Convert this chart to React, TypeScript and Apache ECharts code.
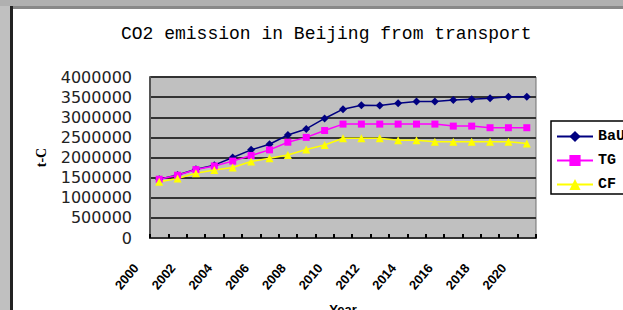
import React, { useEffect, useRef } from "react";
import * as echarts from "echarts";

const years: string[] = [
  "2000", "2001", "2002", "2003", "2004", "2005", "2006", "2007", "2008", "2009", "2010",
  "2011", "2012", "2013", "2014", "2015", "2016", "2017", "2018", "2019", "2020",
];

const bauValues: number[] = [
  1460000, 1565000, 1710000, 1810000, 2000000, 2190000, 2330000, 2560000, 2710000, 2970000, 3200000,
  3300000, 3290000, 3350000, 3390000, 3390000, 3430000, 3450000, 3470000, 3510000, 3510000,
];

const tgValues: number[] = [
  1460000, 1560000, 1700000, 1790000, 1910000, 2050000, 2190000, 2380000, 2500000, 2670000, 2830000,
  2830000, 2830000, 2830000, 2830000, 2830000, 2780000, 2780000, 2740000, 2740000, 2740000,
];

const cfValues: number[] = [
  1400000, 1480000, 1610000, 1690000, 1750000, 1900000, 1980000, 2060000, 2200000, 2310000, 2480000,
  2480000, 2480000, 2430000, 2430000, 2390000, 2390000, 2390000, 2390000, 2390000, 2350000,
];

const yTicks: number[] = [0, 500000, 1000000, 1500000, 2000000, 2500000, 3000000, 3500000, 4000000];

export default function App() {
  const ref = useRef<HTMLDivElement>(null);

  useEffect(() => {
    if (!ref.current) return;
    const chart = echarts.init(ref.current, null, { renderer: "svg" });
    const yMax = yTicks[yTicks.length - 1];
    const yInterval = yTicks[1] - yTicks[0];
    chart.setOption({
      animation: false,
      backgroundColor: "#ffffff",
      title: {
        text: "CO2 emission in Beijing from transport",
        left: 121,
        top: 25,
        padding: 0,
        textStyle: {
          fontFamily: "Liberation Mono",
          fontSize: 18,
          fontWeight: "normal",
          color: "#000",
        },
      },
      graphic: [
        { type: "rect", shape: { x: 0, y: 0, width: 10, height: 310 }, style: { fill: "#c0c0c0" }, z: 100 },
        { type: "rect", shape: { x: 0, y: 0, width: 623, height: 6 }, style: { fill: "#b0b0b0" }, z: 100 },
        { type: "rect", shape: { x: 10, y: 6, width: 613, height: 3 }, style: { fill: "#888888" }, z: 100 },
        { type: "rect", shape: { x: 10, y: 6, width: 3, height: 304 }, style: { fill: "#222222" }, z: 100 },
      ],
      legend: {
        orient: "vertical",
        left: 551,
        top: 121,
        padding: [8, 5, 2, 5],
        itemWidth: 36,
        itemHeight: 14,
        itemGap: 9,
        backgroundColor: "#ffffff",
        borderColor: "#000",
        borderWidth: 1.5,
        borderRadius: 0,
        textStyle: {
          fontFamily: "Liberation Mono",
          fontWeight: "bold",
          fontSize: 15,
          color: "#000",
        },
        data: ["BaU", "TG", "CF"],
      },
      grid: {
        left: 150,
        right: 87,
        top: 77,
        bottom: 72,
        containLabel: false,
        outerBoundsMode: "none",
        show: true,
        backgroundColor: "#c0c0c0",
        borderColor: "#707070",
        borderWidth: 1,
      },
      xAxis: {
        type: "category",
        data: years,
        boundaryGap: true,
        name: "Year",
        nameLocation: "middle",
        nameGap: 65,
        nameTextStyle: {
          fontFamily: "Liberation Sans",
          fontWeight: "bold",
          fontSize: 13,
          color: "#000",
        },
        axisLine: { show: true, lineStyle: { color: "#333", width: 2 } },
        axisTick: {
          show: true,
          inside: true,
          length: 4,
          interval: 0,
          alignWithLabel: false,
          lineStyle: { color: "#000", width: 2 },
        },
        axisLabel: {
          interval: 1,
          rotate: 50,
          margin: 0,
          padding: [0, 36, 0, 0],
          fontFamily: "Liberation Sans",
          fontWeight: "bold",
          fontSize: 13,
          color: "#000",
        },
        splitLine: { show: false },
      },
      yAxis: {
        type: "value",
        min: 0,
        max: yMax,
        interval: yInterval,
        name: "t-C",
        nameLocation: "middle",
        nameRotate: 90,
        nameGap: 102,
        nameTextStyle: {
          fontFamily: "Liberation Serif",
          fontWeight: "bold",
          fontSize: 14,
          color: "#000",
        },
        axisLine: { show: true, lineStyle: { color: "#555", width: 2 } },
        axisTick: { show: false },
        axisLabel: {
          margin: 18,
          fontFamily: "DejaVu Sans",
          fontSize: 16,
          color: "#222",
          formatter: (v: number) => String(v),
        },
        splitLine: { show: true, lineStyle: { color: "#333", width: 2 } },
      },
      series: [
        {
          name: "BaU",
          type: "line",
          data: bauValues,
          symbol: "diamond",
          symbolSize: 8,
          lineStyle: { color: "#000080", width: 1.5 },
          itemStyle: { color: "#000080" },
        },
        {
          name: "TG",
          type: "line",
          data: tgValues,
          symbol: "rect",
          symbolSize: 7,
          lineStyle: { color: "#ff00ff", width: 1.5 },
          itemStyle: { color: "#ff00ff" },
        },
        {
          name: "CF",
          type: "line",
          data: cfValues,
          symbol: "triangle",
          symbolSize: 8,
          lineStyle: { color: "#ffff00", width: 1.5 },
          itemStyle: { color: "#ffff00" },
        },
      ],
    });
    return () => chart.dispose();
  }, []);

  return (
    <div
      ref={ref}
      style={{ position: "fixed", left: 0, top: 0, width: 623, height: 310 }}
    />
  );
}
